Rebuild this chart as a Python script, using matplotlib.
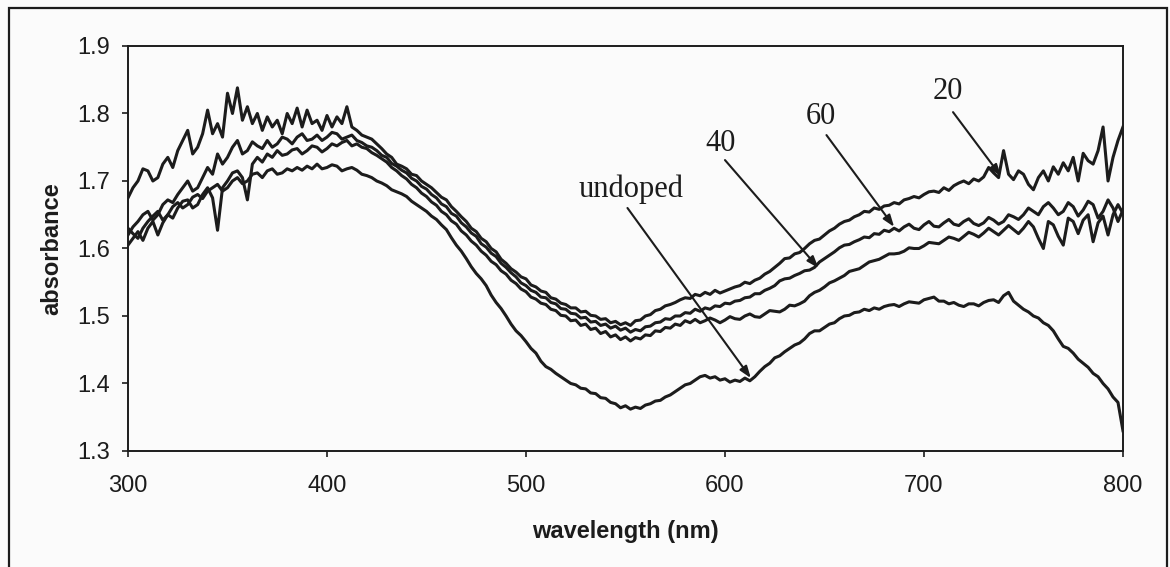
import numpy as np
import matplotlib
matplotlib.use("Agg")
import matplotlib.pyplot as plt
from matplotlib.patches import Rectangle

# Absorbance spectra, sampled every 2.5 nm from 300 to 800 nm
wavelength = np.arange(300, 800.1, 2.5)

abs_20 = [
    1.675, 1.690, 1.700, 1.718, 1.715, 1.700, 1.705, 1.725, 1.735, 1.720,
    1.745, 1.760, 1.775, 1.740, 1.750, 1.770, 1.805, 1.770, 1.785, 1.765,
    1.830, 1.800, 1.838, 1.790, 1.810, 1.785, 1.800, 1.775, 1.795, 1.780,
    1.790, 1.770, 1.800, 1.785, 1.808, 1.780, 1.805, 1.785, 1.790, 1.775,
    1.797, 1.780, 1.795, 1.785, 1.810, 1.780, 1.775, 1.768, 1.765, 1.762,
    1.755, 1.748, 1.740, 1.735, 1.725, 1.722, 1.718, 1.710, 1.708, 1.700,
    1.695, 1.690, 1.683, 1.676, 1.672, 1.662, 1.655, 1.647, 1.640, 1.630,
    1.625, 1.615, 1.610, 1.600, 1.595, 1.584, 1.578, 1.570, 1.565, 1.558,
    1.555, 1.546, 1.543, 1.537, 1.535, 1.527, 1.525, 1.519, 1.517, 1.512,
    1.512, 1.506, 1.507, 1.501, 1.500, 1.495, 1.496, 1.490, 1.492, 1.487,
    1.490, 1.486, 1.493, 1.494, 1.500, 1.502, 1.508, 1.510, 1.515, 1.517,
    1.520, 1.524, 1.527, 1.526, 1.532, 1.530, 1.535, 1.532, 1.538, 1.534,
    1.537, 1.540, 1.543, 1.545, 1.550, 1.548, 1.553, 1.556, 1.562, 1.566,
    1.572, 1.578, 1.585, 1.586, 1.592, 1.594, 1.600, 1.607, 1.612, 1.614,
    1.620, 1.626, 1.630, 1.636, 1.640, 1.642, 1.647, 1.650, 1.655, 1.654,
    1.660, 1.658, 1.663, 1.664, 1.668, 1.666, 1.672, 1.674, 1.677, 1.675,
    1.680, 1.684, 1.685, 1.683, 1.690, 1.686, 1.693, 1.697, 1.700, 1.696,
    1.703, 1.700, 1.706, 1.720, 1.712, 1.705, 1.745, 1.710, 1.702, 1.715,
    1.710, 1.695, 1.687, 1.705, 1.715, 1.700, 1.721, 1.710, 1.727, 1.715,
    1.735, 1.700, 1.741, 1.730, 1.725, 1.745, 1.780, 1.700, 1.735, 1.760,
    1.780,
]

abs_60 = [
    1.620, 1.632, 1.640, 1.650, 1.655, 1.642, 1.650, 1.665, 1.672, 1.668,
    1.680, 1.690, 1.700, 1.685, 1.690, 1.705, 1.720, 1.710, 1.740, 1.725,
    1.735, 1.750, 1.760, 1.740, 1.745, 1.758, 1.752, 1.748, 1.760, 1.750,
    1.755, 1.765, 1.762, 1.755, 1.765, 1.770, 1.760, 1.762, 1.768, 1.760,
    1.765, 1.772, 1.770, 1.762, 1.765, 1.768, 1.760, 1.757, 1.752, 1.750,
    1.745, 1.738, 1.735, 1.726, 1.722, 1.716, 1.712, 1.704, 1.700, 1.692,
    1.688, 1.680, 1.675, 1.666, 1.662, 1.652, 1.648, 1.638, 1.632, 1.623,
    1.618, 1.607, 1.602, 1.593, 1.588, 1.578, 1.572, 1.564, 1.558, 1.549,
    1.545, 1.538, 1.535, 1.528, 1.527, 1.520, 1.518, 1.511, 1.510, 1.504,
    1.503, 1.497, 1.498, 1.491, 1.492, 1.486, 1.488, 1.482, 1.485, 1.479,
    1.482, 1.476, 1.480, 1.478, 1.484, 1.485, 1.490, 1.491, 1.496, 1.495,
    1.500, 1.500, 1.505, 1.504, 1.510, 1.507, 1.512, 1.510, 1.515, 1.514,
    1.519, 1.518, 1.522, 1.523, 1.527, 1.528, 1.533, 1.533, 1.538, 1.541,
    1.545, 1.552, 1.555, 1.556, 1.560, 1.563, 1.567, 1.568, 1.572, 1.580,
    1.585, 1.590, 1.595, 1.601, 1.605, 1.606, 1.610, 1.613, 1.617, 1.616,
    1.622, 1.621, 1.627, 1.625, 1.630, 1.626, 1.632, 1.636, 1.630, 1.628,
    1.635, 1.640, 1.633, 1.632, 1.638, 1.643, 1.636, 1.634, 1.640, 1.644,
    1.637, 1.634, 1.638, 1.646, 1.642, 1.636, 1.640, 1.650, 1.647, 1.643,
    1.650, 1.660, 1.655, 1.650, 1.662, 1.668, 1.660, 1.650, 1.655, 1.668,
    1.662, 1.648, 1.657, 1.670, 1.665, 1.645, 1.655, 1.672, 1.660, 1.640,
    1.657,
]

abs_40 = [
    1.605, 1.615, 1.625, 1.612, 1.630, 1.640, 1.620, 1.638, 1.650, 1.645,
    1.660, 1.670, 1.672, 1.660, 1.665, 1.680, 1.690, 1.675, 1.627, 1.690,
    1.700, 1.712, 1.715, 1.705, 1.672, 1.725, 1.735, 1.728, 1.740, 1.735,
    1.745, 1.738, 1.740, 1.746, 1.748, 1.740, 1.745, 1.752, 1.750, 1.743,
    1.748, 1.755, 1.752, 1.757, 1.760, 1.752, 1.755, 1.750, 1.748, 1.742,
    1.738, 1.733, 1.728, 1.720, 1.715, 1.708, 1.703, 1.695, 1.690, 1.682,
    1.677, 1.669, 1.664, 1.655, 1.650, 1.641, 1.636, 1.626, 1.620, 1.611,
    1.605, 1.596, 1.590, 1.581, 1.576, 1.567, 1.562, 1.553, 1.548, 1.540,
    1.536, 1.528, 1.525, 1.519, 1.517, 1.510, 1.508, 1.501, 1.500, 1.493,
    1.494, 1.486, 1.488, 1.480, 1.482, 1.474, 1.477, 1.469, 1.472, 1.465,
    1.469, 1.463, 1.468, 1.466, 1.472, 1.471, 1.478, 1.477, 1.483, 1.482,
    1.488, 1.486, 1.493, 1.490, 1.495, 1.490, 1.493, 1.497, 1.494, 1.490,
    1.494, 1.499, 1.496, 1.495, 1.500, 1.503, 1.499, 1.498, 1.503, 1.508,
    1.507, 1.506, 1.510, 1.516, 1.515, 1.518, 1.522, 1.530, 1.535, 1.538,
    1.543, 1.549, 1.552, 1.556, 1.560, 1.566, 1.568, 1.570, 1.575, 1.580,
    1.582, 1.584, 1.588, 1.592, 1.592, 1.593, 1.596, 1.601, 1.600, 1.600,
    1.604, 1.609, 1.608, 1.607, 1.612, 1.617, 1.615, 1.612, 1.618, 1.624,
    1.621, 1.617, 1.623, 1.630, 1.625, 1.620, 1.627, 1.634, 1.628, 1.622,
    1.630, 1.640, 1.632, 1.615, 1.600, 1.640, 1.635, 1.618, 1.605, 1.645,
    1.640, 1.622, 1.642, 1.650, 1.610, 1.638, 1.648, 1.620, 1.650, 1.665,
    1.652,
]

abs_undoped = [
    1.630, 1.622, 1.615, 1.630, 1.640, 1.648, 1.655, 1.642, 1.650, 1.662,
    1.668, 1.660, 1.665, 1.676, 1.680, 1.674, 1.685, 1.690, 1.695, 1.685,
    1.690, 1.700, 1.705, 1.696, 1.700, 1.710, 1.712, 1.705, 1.715, 1.718,
    1.710, 1.712, 1.718, 1.715, 1.720, 1.716, 1.722, 1.718, 1.725, 1.718,
    1.720, 1.724, 1.722, 1.715, 1.718, 1.720, 1.716, 1.710, 1.708, 1.705,
    1.700, 1.697, 1.693, 1.687, 1.684, 1.681, 1.677, 1.670, 1.665, 1.660,
    1.655, 1.648, 1.643, 1.635, 1.628, 1.616, 1.605, 1.596, 1.585, 1.573,
    1.563, 1.555, 1.545, 1.531, 1.520, 1.511, 1.500, 1.488, 1.478, 1.471,
    1.462, 1.452, 1.445, 1.433, 1.425, 1.421, 1.415, 1.410, 1.405, 1.400,
    1.398, 1.393, 1.392, 1.386, 1.385, 1.379, 1.378, 1.372, 1.370, 1.364,
    1.367, 1.362, 1.365, 1.363, 1.368, 1.370, 1.374, 1.375, 1.380, 1.383,
    1.388, 1.393, 1.398, 1.400, 1.405, 1.410, 1.412, 1.408, 1.410, 1.405,
    1.407, 1.402, 1.405, 1.403, 1.408, 1.404, 1.410, 1.418, 1.425, 1.430,
    1.438, 1.441, 1.447, 1.452, 1.457, 1.460, 1.466, 1.474, 1.478, 1.478,
    1.483, 1.488, 1.490, 1.496, 1.500, 1.501, 1.505, 1.506, 1.510, 1.508,
    1.512, 1.510, 1.514, 1.516, 1.517, 1.514, 1.518, 1.521, 1.520, 1.519,
    1.524, 1.526, 1.528, 1.522, 1.522, 1.518, 1.520, 1.516, 1.514, 1.518,
    1.518, 1.515, 1.520, 1.523, 1.524, 1.520, 1.530, 1.535, 1.522, 1.516,
    1.510, 1.506, 1.500, 1.497, 1.490, 1.486, 1.478, 1.466, 1.455, 1.452,
    1.445, 1.436, 1.430, 1.424, 1.415, 1.410, 1.400, 1.392, 1.380, 1.372,
    1.330,
]

x_ticks = [300, 400, 500, 600, 700, 800]
y_ticks = [1.3, 1.4, 1.5, 1.6, 1.7, 1.8, 1.9]

ink = "#1c1c1c"
sans = "Liberation Sans"
serif = "Liberation Serif"

fig = plt.figure(figsize=(11.7, 5.67), dpi=100, facecolor="#fbfbfb")
ax = fig.add_axes([0.1094, 0.2046, 0.8504, 0.7143])
ax.set_facecolor("#fbfbfb")

for series in (abs_undoped, abs_40, abs_60, abs_20):
    ax.plot(wavelength, series, color=ink, lw=2.2, solid_joinstyle="round")

ax.set_xlim(300, 800)
ax.set_ylim(1.3, 1.9)
ax.set_xticks(x_ticks)
ax.set_yticks(y_ticks)
ax.set_xticklabels([str(v) for v in x_ticks], fontfamily=sans, fontsize=17)
ax.set_yticklabels([f"{v:.1f}" for v in y_ticks], fontfamily=sans, fontsize=17)
ax.tick_params(axis="both", direction="out", length=4, width=1.2, colors=ink)
ax.tick_params(axis="x", pad=13)
ax.tick_params(axis="y", pad=9)
for spine in ax.spines.values():
    spine.set_linewidth(1.4)
    spine.set_color(ink)

ax.set_xlabel("wavelength (nm)", fontfamily=sans, fontsize=17,
              fontweight="bold", color=ink, va="center")
ax.xaxis.set_label_coords(0.5, -0.198)
ax.set_ylabel("absorbance", fontfamily=sans, fontsize=17,
              fontweight="bold", color=ink, va="center")
ax.yaxis.set_label_coords(-0.0764, 0.5)

# Curve labels with arrows
labels = [
    ("undoped", (553, 1.688), (551, 1.660), (613, 1.408)),
    ("40", (598, 1.756), (600, 1.731), (647, 1.571)),
    ("60", (648, 1.795), (651, 1.768), (685, 1.632)),
    ("20", (712, 1.832), (714.6, 1.802), (738.7, 1.707)),
]
for text, pos, start, end in labels:
    ax.text(pos[0], pos[1], text, fontfamily=serif, fontsize=22,
            ha="center", va="center", color=ink)
    ax.annotate("", xy=end, xytext=start,
                arrowprops=dict(arrowstyle="-|>,head_length=0.7,head_width=0.25",
                                color=ink, lw=1.5, shrinkA=0, shrinkB=0))

# Outer frame around the whole chart
fig.patches.append(Rectangle((9 / 1170, -0.01), 1158 / 1170, 1 - 8 / 567 + 0.01,
                             transform=fig.transFigure, fill=False,
                             edgecolor=ink, lw=1.6))

fig.savefig("out.png", dpi=100, facecolor=fig.get_facecolor())
